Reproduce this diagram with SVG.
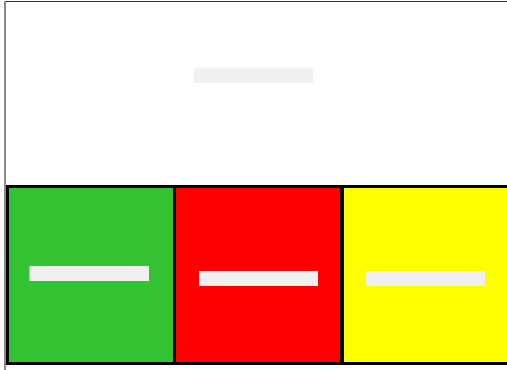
<svg xmlns="http://www.w3.org/2000/svg" width="507" height="370" viewBox="0 0 507 370">
<style>
.bar{fill:#f0f0f0}
.cell{stroke:none}
</style>
<rect width="507" height="370" fill="#ffffff"/>
<g id="frame">
<line x1="5" y1="1.5" x2="507" y2="1.5" stroke="#333333" stroke-width="1"/>
<line x1="5" y1="1" x2="5" y2="370" stroke="#8a8a8a" stroke-width="2"/>
</g>
<g id="title">
<rect class="bar" x="194" y="68" width="119" height="15"/>
</g>
<rect x="6" y="185" width="502" height="180" fill="#000000"/>
<g id="green">
<rect class="cell" x="9" y="188" width="164" height="174" fill="#32c232"/>
<rect class="bar" x="29.5" y="266" width="119.5" height="15"/>
</g>
<g id="red">
<rect class="cell" x="176" y="188" width="164" height="174" fill="#ff0000"/>
<rect class="bar" x="199" y="271" width="119" height="15"/>
</g>
<g id="yellow">
<rect class="cell" x="344" y="188" width="164" height="174" fill="#ffff00"/>
<rect class="bar" x="366" y="271" width="119" height="15"/>
</g>
<g id="connectors"/>
</svg>
